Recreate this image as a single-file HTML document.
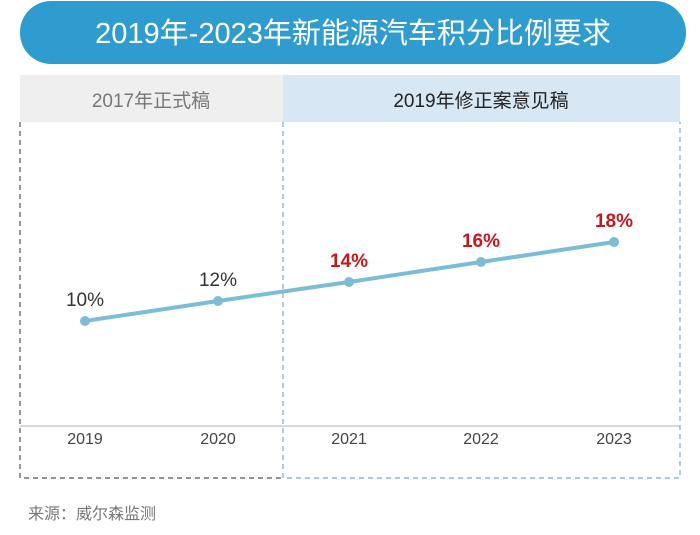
<!DOCTYPE html>
<html><head><meta charset="utf-8"><style>
body{margin:0;width:700px;height:535px;background:#fff;overflow:hidden;font-family:"Liberation Sans","Noto Sans CJK SC",sans-serif;}
</style></head><body>
<svg width="700" height="535" xmlns="http://www.w3.org/2000/svg" style="position:absolute;left:0;top:0">
<rect x="20" y="1" width="666" height="63" rx="31" fill="#2f9ccf"/>
<text x="353" y="43" text-anchor="middle" font-size="29" fill="#fff" font-family="Liberation Sans,Noto Sans CJK SC,sans-serif">2019年-2023年新能源汽车积分比例要求</text>
<rect x="20" y="75" width="263" height="47" fill="#efefef"/>
<rect x="283" y="75" width="397" height="47" fill="#d7e7f3"/>
<text x="151" y="107" text-anchor="middle" font-size="19" fill="#777">2017年正式稿</text>
<text x="481" y="107" text-anchor="middle" font-size="19" fill="#222">2019年修正案意见稿</text>
<line x1="20" y1="426" x2="680" y2="426" stroke="#ccc" stroke-width="1.5"/>
<path d="M20 122 V478 H283" fill="none" stroke="#555" stroke-width="1.2" stroke-dasharray="5,4"/>
<path d="M283 122 V478 H680 V122" fill="none" stroke="#7fa9c4" stroke-width="1.2" stroke-dasharray="5,4"/>
<polyline points="85,321 218,301 349,282 481,262 614,242" fill="none" stroke="#7dbcd6" stroke-width="4"/>
<g fill="#7dbcd6"><circle cx="85" cy="321" r="5"/><circle cx="218" cy="301" r="5"/><circle cx="349" cy="282" r="5"/><circle cx="481" cy="262" r="5"/><circle cx="614" cy="242" r="5"/></g>
<g font-size="19" text-anchor="middle">
<text x="85" y="306" fill="#333">10%</text>
<text x="218" y="286" fill="#333">12%</text>
<text x="349" y="267" fill="#c8161d" font-weight="bold">14%</text>
<text x="481" y="247" fill="#c8161d" font-weight="bold">16%</text>
<text x="614" y="227" fill="#c8161d" font-weight="bold">18%</text>
</g>
<g font-size="16" fill="#444" text-anchor="middle">
<text x="85" y="444">2019</text><text x="218" y="444">2020</text><text x="349" y="444">2021</text><text x="481" y="444">2022</text><text x="614" y="444">2023</text>
</g>
<text x="28" y="519" font-size="16" fill="#777">来源：威尔森监测</text>
</svg>
</body></html>
